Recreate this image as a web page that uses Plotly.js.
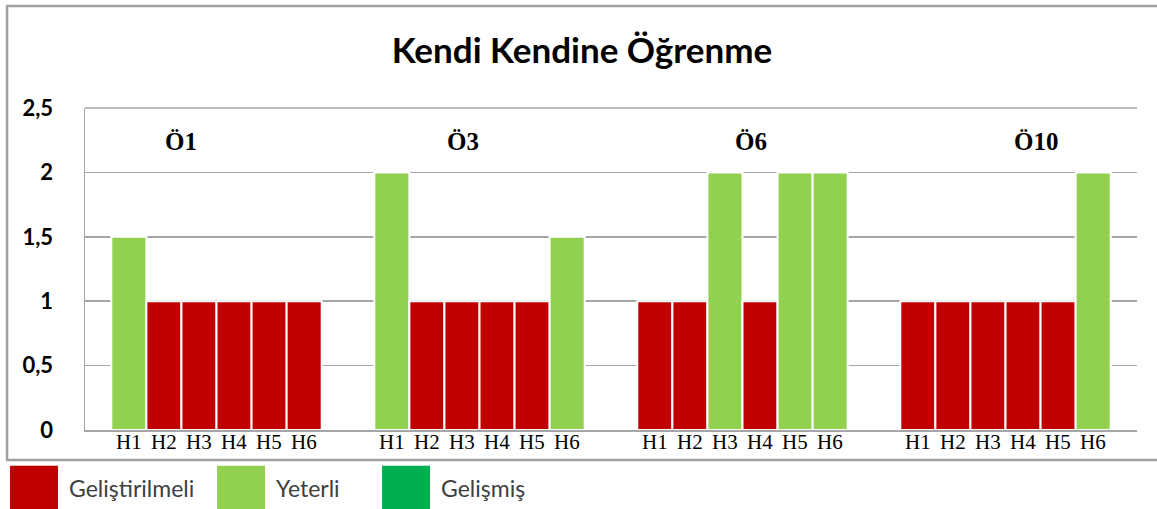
<!DOCTYPE html>
<html>
<head>
<meta charset="utf-8">
<script src="https://cdn.plot.ly/plotly-3.0.1.min.js"></script>
<style>
html,body{margin:0;padding:0;background:#fff;}
#chart{width:1157px;height:509px;}
</style>
</head>
<body>
<div id="chart"></div>
<script>
// ---- data ----
var groups = ['Ö1', 'Ö3', 'Ö6', 'Ö10'];
var items = ['H1', 'H2', 'H3', 'H4', 'H5', 'H6'];
// values per item (H1..H6), one value per group (Ö1, Ö3, Ö6, Ö10)
var H1 = [1.5, 2, 1, 1];
var H2 = [1, 1, 1, 1];
var H3 = [1, 1, 2, 1];
var H4 = [1, 1, 1, 1];
var H5 = [1, 1, 2, 1];
var H6 = [1, 1.5, 2, 2];
// level of each bar: G = Geliştirilmeli, Y = Yeterli, M = Gelişmiş
var H1lvl = ['Y', 'Y', 'G', 'G'];
var H2lvl = ['G', 'G', 'G', 'G'];
var H3lvl = ['G', 'G', 'Y', 'G'];
var H4lvl = ['G', 'G', 'G', 'G'];
var H5lvl = ['G', 'G', 'Y', 'G'];
var H6lvl = ['G', 'Y', 'Y', 'Y'];
var levelNames = ['Geliştirilmeli', 'Yeterli', 'Gelişmiş'];
var levelKeys = ['G', 'Y', 'M'];
var title = 'Kendi Kendine Öğrenme';

// ---- styles ----
var levelColors = {G: '#C00000', Y: '#92D050', M: '#00B050'};
var values = [H1, H2, H3, H4, H5, H6];
var levels = [H1lvl, H2lvl, H3lvl, H4lvl, H5lvl, H6lvl];

var traces = [];
items.forEach(function (name, i) {
  traces.push({
    type: 'bar', name: name, x: groups, y: values[i],
    marker: {color: levels[i].map(function (l) { return levelColors[l]; }),
             line: {color: '#ffffff', width: 2}},
    showlegend: false, hoverinfo: 'x+y+name'
  });
});
// legend entries (on a hidden axis so they do not take a slot in the groups)
levelKeys.forEach(function (k, j) {
  traces.push({
    type: 'bar', name: levelNames[j], x: [groups[0]], y: [0],
    xaxis: 'x2', yaxis: 'y2',
    marker: {color: levelColors[k], line: {width: 0}},
    showlegend: true
  });
});

var bargap = 0.2;
var annotations = [];
// group labels inside plot
var groupShift = [-36, -17, 8, 30];
groups.forEach(function (g, gi) {
  annotations.push({
    x: g, y: 2.24, xref: 'x', yref: 'y', text: '<b>' + g + '</b>', showarrow: false,
    xshift: groupShift[gi],
    font: {family: 'Liberation Serif, serif', size: 25, color: '#000'}
  });
  // item labels under each bar
  var w = (1 - bargap) / items.length;
  items.forEach(function (h, i) {
    annotations.push({
      x: gi - (1 - bargap) / 2 + w * (i + 0.5), y: 0, xref: 'x', yref: 'paper',
      yanchor: 'top', yshift: 2, text: h, showarrow: false,
      font: {family: 'Liberation Serif, serif', size: 21, color: '#000'}
    });
  });
});

var layout = {
  width: 1157, height: 509,
  margin: {l: 85, r: 20, t: 108, b: 79, autoexpand: false},
  paper_bgcolor: '#ffffff', plot_bgcolor: '#ffffff',
  separators: ',.',
  barmode: 'group', bargap: bargap, bargroupgap: 0,
  title: {text: '<b>' + title + '</b>', x: 0.503, xanchor: 'center', y: 0.9, yanchor: 'middle',
          font: {family: 'Lato, Open Sans, sans-serif', size: 35, color: '#000'}},
  xaxis: {type: 'category', showticklabels: false, ticks: '', showgrid: false,
          showline: true, linecolor: '#A6A6A6', linewidth: 1.5, zeroline: false,
          fixedrange: true},
  yaxis: {range: [0, 2.5], dtick: 0.5, tick0: 0, showgrid: true, gridcolor: '#A6A6A6', gridwidth: 1.5,
          showline: true, linecolor: '#A6A6A6', linewidth: 1.5, zeroline: false, ticks: '',
          ticklabelstandoff: 26,
          tickfont: {family: 'Lato, Open Sans, sans-serif', size: 22, color: '#000', weight: 'bold'}},
  xaxis2: {overlaying: 'x', visible: false, type: 'category'},
  yaxis2: {overlaying: 'y', visible: false, range: [1, 2]},
  showlegend: true,
  legend: {orientation: 'h', x: -0.0817, xanchor: 'left', y: -0.113, yanchor: 'top',
           font: {family: 'Lato, Open Sans, sans-serif', size: 23, color: '#404040'},
           itemwidth: 60, traceorder: 'normal', bgcolor: 'rgba(0,0,0,0)'},
  annotations: annotations,
  shapes: [
    {type: 'rect', xref: 'paper', yref: 'paper', x0: -0.0741, x1: 1.03, y0: -0.0932, y1: 1.3168,
     line: {color: '#A0A0A0', width: 2.5}, fillcolor: 'rgba(0,0,0,0)', layer: 'below'},
    {type: 'line', xref: 'paper', yref: 'paper', x0: 0, x1: 1, y0: 1, y1: 1,
     line: {color: '#A6A6A6', width: 1.5}}
  ]
};

// horizontal start of each legend entry, relative to the first one (px)
var legendOffsets = [0, 207, 372];

Plotly.newPlot('chart', traces, layout, {displayModeBar: false, staticPlot: true}).then(function () {
  // big square swatches like the original legend
  document.querySelectorAll('.legend .legendpoints path').forEach(function (p) {
    p.setAttribute('d', 'M24,22H-24V-22H24Z');
  });
  // let the re-spaced entries show in full
  document.querySelectorAll('.legend [clip-path]').forEach(function (el) {
    el.removeAttribute('clip-path');
  });
  var entries = document.querySelectorAll('.legend .traces');
  var base = null;
  entries.forEach(function (e, i) {
    var t = e.getAttribute('transform') || '';
    var m = t.match(/translate\(\s*([-\d.]+)[ ,]+([-\d.]+)\s*\)/);
    if (!m) return;
    if (base === null) base = parseFloat(m[1]);
    if (i < legendOffsets.length) {
      e.setAttribute('transform', 'translate(' + (base + legendOffsets[i]) + ',' + m[2] + ')');
    }
  });
});
</script>
</body>
</html>
